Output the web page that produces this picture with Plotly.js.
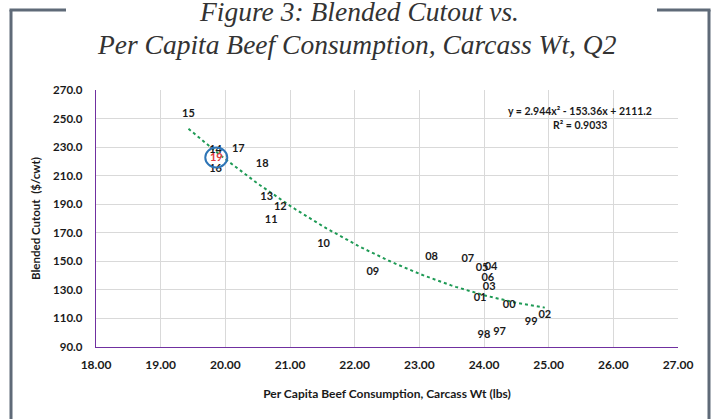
<!DOCTYPE html>
<html>
<head>
<meta charset="utf-8">
<script src="https://cdn.plot.ly/plotly-3.0.1.min.js"></script>
<style>
  html, body { margin: 0; padding: 0; background: #ffffff; }
  #chart { width: 714px; height: 419px; }
</style>
</head>
<body>
<div id="chart"></div>
<script>
// ---- data ----
const years = ['15','14','19','16','17','18','13','12','11','10','09','08','07','05','04','06','03','01','00','99','02','98','97'];
const consumption = [19.43, 19.85, 19.86, 19.85, 20.20, 20.57, 20.64, 20.85, 20.71, 21.52, 22.28, 23.19, 23.75, 23.97, 24.11, 24.06, 24.08, 23.94, 24.39, 24.73, 24.94, 24.00, 24.24];
const cutout =      [253.2, 227.5, 222.4, 214.2, 228.5, 217.9, 195.1, 188.2, 178.6, 162.1, 142.2, 152.7, 151.8, 145.5, 146.0, 138.0, 131.7, 123.8, 118.9, 107.5, 111.9, 98.4, 100.5];
const highlightYear = '19';

// trendline coefficients as printed on the chart (a, b, c for a*x^2 + b*x + c)
const trendCoefficients = [2.944, -153.36, 2111.2];
const trendLabel = ['y = 2.944x² - 153.36x + 2111.2', 'R² = 0.9033'];
const titleLines = ['Figure 3: Blended Cutout vs.', 'Per Capita Beef Consumption, Carcass Wt, Q2'];

const xTicks = [18, 19, 20, 21, 22, 23, 24, 25, 26, 27];
const yTicks = [90, 110, 130, 150, 170, 190, 210, 230, 250, 270];

// ---- layout constants ----
const W = 714, H = 419;
const M = { l: 96, r: 36, t: 90, b: 72 };
const PW = W - M.l - M.r, PH = H - M.t - M.b;
const px2x = px => (px - M.l) / PW;
const py2y = py => (H - M.b - py) / PH;

const labelColors = years.map(y => y === highlightYear ? '#E0393E' : '#1a1a1a');

// trendline sampled over the data's x span
const xmin = Math.min(...consumption), xmax = Math.max(...consumption);
const trendX = [], trendY = [];
for (let i = 0; i <= 80; i++) {
  const x = xmin + (xmax - xmin) * i / 80;
  trendX.push(x);
  trendY.push(trendCoefficients[0] * x * x + trendCoefficients[1] * x + trendCoefficients[2]);
}

const labelFont = 'Lato, Carlito, Calibri, "Liberation Sans", sans-serif';
const titleFont = '"Palatino Linotype", "Book Antiqua", Palatino, "Liberation Serif", "DejaVu Serif", serif';

const traces = [
  {
    x: trendX, y: trendY, type: 'scatter', mode: 'lines',
    line: { color: '#1E9A55', width: 2, dash: 'dot' },
    hoverinfo: 'skip', showlegend: false
  },
  {
    x: consumption, y: cutout, type: 'scatter', mode: 'text',
    text: years, textposition: 'middle center',
    textfont: { family: labelFont, size: 11, color: labelColors, weight: 'bold' },
    showlegend: false
  }
];

const iHi = years.indexOf(highlightYear);
const frameColor = '#5F6A78';

const layout = {
  width: W, height: H,
  margin: M,
  paper_bgcolor: '#ffffff', plot_bgcolor: '#ffffff',
  showlegend: false,
  xaxis: {
    range: [18, 27], tickvals: xTicks, tickformat: '.2f',
    showgrid: true, gridcolor: '#D9D9D9', gridwidth: 1,
    zeroline: false, showline: true, linecolor: '#7030A0', linewidth: 1.2,
    ticks: '', ticklabelstandoff: 6,
    tickfont: { family: labelFont, size: 12, color: '#1a1a1a', weight: 'bold' },
    title: { text: 'Per Capita Beef Consumption, Carcass Wt (lbs)', standoff: 19,
             font: { family: labelFont, size: 12, color: '#1a1a1a', weight: 'bold' } },
    automargin: false, fixedrange: true
  },
  yaxis: {
    range: [90, 270], tickvals: yTicks, tickformat: '.1f',
    showgrid: true, gridcolor: '#D9D9D9', gridwidth: 1,
    zeroline: false, showline: true, linecolor: '#7030A0', linewidth: 1.2,
    ticks: '', ticklabelstandoff: 10,
    tickfont: { family: labelFont, size: 11.5, color: '#1a1a1a', weight: 'bold' },
    title: { text: 'Blended Cutout  ($/cwt)', standoff: 10,
             font: { family: labelFont, size: 11.5, color: '#1a1a1a', weight: 'bold' } },
    automargin: false, fixedrange: true
  },
  annotations: [
    { x: px2x(359), y: py2y(11), xref: 'paper', yref: 'paper', text: '<i>' + titleLines[0] + '</i>',
      showarrow: false, xanchor: 'center', yanchor: 'middle',
      font: { family: titleFont, size: 27.5, color: '#333333' } },
    { x: px2x(357), y: py2y(45), xref: 'paper', yref: 'paper', text: '<i>' + titleLines[1] + '</i>',
      showarrow: false, xanchor: 'center', yanchor: 'middle',
      font: { family: titleFont, size: 27.5, color: '#333333' } },
    { x: px2x(580), y: py2y(110.5), xref: 'paper', yref: 'paper', text: trendLabel[0],
      showarrow: false, xanchor: 'center', yanchor: 'middle',
      font: { family: labelFont, size: 10.5, color: '#1a1a1a', weight: 'bold' } },
    { x: px2x(580), y: py2y(125), xref: 'paper', yref: 'paper', text: trendLabel[1],
      showarrow: false, xanchor: 'center', yanchor: 'middle',
      font: { family: labelFont, size: 10.5, color: '#1a1a1a', weight: 'bold' } }
  ],
  shapes: [
    // highlight circle around the latest year
    { type: 'circle', xref: 'x', yref: 'y', xsizemode: 'pixel', ysizemode: 'pixel',
      xanchor: consumption[iHi], yanchor: cutout[iHi],
      x0: -11, x1: 11, y0: -9.5, y1: 10.5,
      line: { color: '#2E75B6', width: 2 }, fillcolor: 'rgba(0,0,0,0)' },
    // outer frame with a gap for the title
    { type: 'line', xref: 'paper', yref: 'paper', x0: px2x(11), x1: px2x(11), y0: py2y(10), y1: py2y(430),
      line: { color: frameColor, width: 3 } },
    { type: 'line', xref: 'paper', yref: 'paper', x0: px2x(709), x1: px2x(709), y0: py2y(10), y1: py2y(430),
      line: { color: frameColor, width: 3 } },
    { type: 'line', xref: 'paper', yref: 'paper', x0: px2x(9.5), x1: px2x(66), y0: py2y(10), y1: py2y(10),
      line: { color: frameColor, width: 3 } },
    { type: 'line', xref: 'paper', yref: 'paper', x0: px2x(657), x1: px2x(710.5), y0: py2y(10), y1: py2y(10),
      line: { color: frameColor, width: 3 } }
  ]
};

Plotly.newPlot('chart', traces, layout, { staticPlot: true, displayModeBar: false });
</script>
</body>
</html>
